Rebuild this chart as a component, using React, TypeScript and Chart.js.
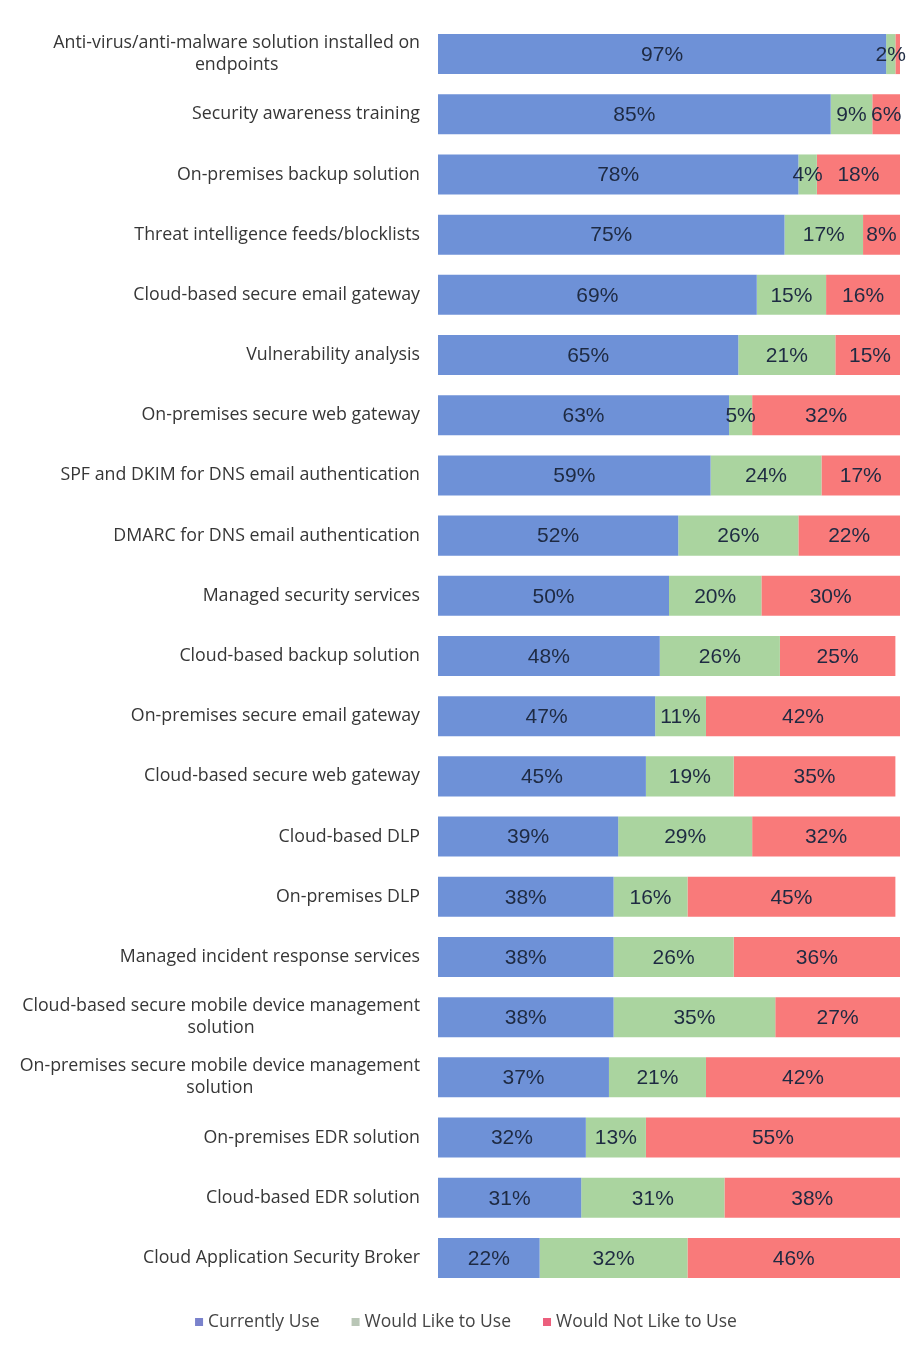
import React, { useEffect, useRef } from 'react';
import { Chart, registerables } from 'chart.js';

Chart.register(...registerables);

const categories: string[] = [
  'Anti-virus/anti-malware solution installed on\nendpoints',
  'Security awareness training',
  'On-premises backup solution',
  'Threat intelligence feeds/blocklists',
  'Cloud-based secure email gateway',
  'Vulnerability analysis',
  'On-premises secure web gateway',
  'SPF and DKIM for DNS email authentication',
  'DMARC for DNS email authentication',
  'Managed security services',
  'Cloud-based backup solution',
  'On-premises secure email gateway',
  'Cloud-based secure web gateway',
  'Cloud-based DLP',
  'On-premises DLP',
  'Managed incident response services',
  'Cloud-based secure mobile device management\nsolution',
  'On-premises secure mobile device management\nsolution',
  'On-premises EDR solution',
  'Cloud-based EDR solution',
  'Cloud Application Security Broker',
];

const currentlyUse: number[] = [97, 85, 78, 75, 69, 65, 63, 59, 52, 50, 48, 47, 45, 39, 38, 38, 38, 37, 32, 31, 22];
const wouldLikeToUse: number[] = [2, 9, 4, 17, 15, 21, 5, 24, 26, 20, 26, 11, 19, 29, 16, 26, 35, 21, 13, 31, 32];
const wouldNotLikeToUse: number[] = [1, 6, 18, 8, 16, 15, 32, 17, 22, 30, 25, 42, 35, 32, 45, 36, 27, 42, 55, 38, 46];

const seriesNames: string[] = ['Currently Use', 'Would Like to Use', 'Would Not Like to Use'];
const seriesColors: string[] = ['#6e91d7', '#aad49f', '#f97a7a'];
const legendColors: string[] = ['#7a82cc', '#b9c6b6', '#ec5f7d'];

const LABEL_FONT = '"Open Sans", "Noto Sans", sans-serif';
const VALUE_FONT = '"Liberation Sans", Arial, sans-serif';

const labelPlugin = {
  id: 'customLabels',
  afterDatasetsDraw(chart: any) {
    const ctx = chart.ctx;
    const yScale = chart.scales.y;
    ctx.save();
    // category labels
    ctx.font = `17.8px ${LABEL_FONT}`;
    ctx.fillStyle = '#363636';
    ctx.textBaseline = 'middle';
    ctx.textAlign = 'center';
    const rightEdge = 420;
    categories.forEach((cat, i) => {
      const lines = cat.split('\n');
      const y = yScale.getPixelForValue(i);
      const maxW = Math.max(...lines.map((l) => ctx.measureText(l).width));
      const cx = rightEdge - maxW / 2;
      const lh = 22;
      const startY = y - ((lines.length - 1) * lh) / 2;
      lines.forEach((l, k) => ctx.fillText(l, cx, startY + k * lh));
    });
    // value labels
    ctx.font = `21px ${VALUE_FONT}`;
    ctx.fillStyle = '#1e2a42';
    chart.data.datasets.forEach((ds: any, di: number) => {
      const meta = chart.getDatasetMeta(di);
      meta.data.forEach((el: any, i: number) => {
        const v = ds.data[i];
        if (v < 2) return;
        const cx = (el.x + el.base) / 2;
        ctx.fillText(`${v}%`, cx, el.y + 1);
      });
    });
    // legend
    ctx.font = `17.5px ${LABEL_FONT}`;
    ctx.textAlign = 'left';
    const legendY = 1322;
    const widths = seriesNames.map((n) => ctx.measureText(n).width);
    const box = 8;
    const gapBoxText = 5;
    const gapItems = 32;
    const total = widths.reduce((a, w) => a + box + gapBoxText + w, 0) + gapItems * (seriesNames.length - 1);
    let x = 466 - total / 2;
    seriesNames.forEach((n, k) => {
      ctx.fillStyle = legendColors[k];
      ctx.fillRect(x, legendY - box / 2, box, box);
      x += box + gapBoxText;
      ctx.fillStyle = '#444444';
      ctx.fillText(n, x, legendY);
      x += widths[k] + gapItems;
    });
    ctx.restore();
  },
};

export default function App() {
  const canvasRef = useRef<HTMLCanvasElement | null>(null);

  useEffect(() => {
    if (!canvasRef.current) return;
    const chart = new Chart(canvasRef.current, {
      type: 'bar',
      data: {
        labels: categories,
        datasets: [
          { label: seriesNames[0], data: currentlyUse, backgroundColor: seriesColors[0] },
          { label: seriesNames[1], data: wouldLikeToUse, backgroundColor: seriesColors[1] },
          { label: seriesNames[2], data: wouldNotLikeToUse, backgroundColor: seriesColors[2] },
        ],
      },
      options: {
        indexAxis: 'y',
        responsive: false,
        animation: false,
        devicePixelRatio: 1,
        datasets: {
          bar: { barPercentage: 0.665, categoryPercentage: 1, borderWidth: 0 },
        },
        layout: { padding: { left: 438, right: 7, top: 24, bottom: 57 } },
        scales: {
          x: { stacked: true, min: 0, max: 100, display: false },
          y: { stacked: true, display: false, offset: true },
        },
        plugins: {
          legend: { display: false },
          tooltip: { enabled: false },
        },
      },
      plugins: [labelPlugin],
    });
    return () => chart.destroy();
  }, []);

  return (
    <div style={{ position: 'absolute', left: 0, top: 0, width: 907, height: 1345, background: '#ffffff' }}>
      <canvas ref={canvasRef} width={907} height={1345} style={{ display: 'block', width: 907, height: 1345 }} />
    </div>
  );
}
